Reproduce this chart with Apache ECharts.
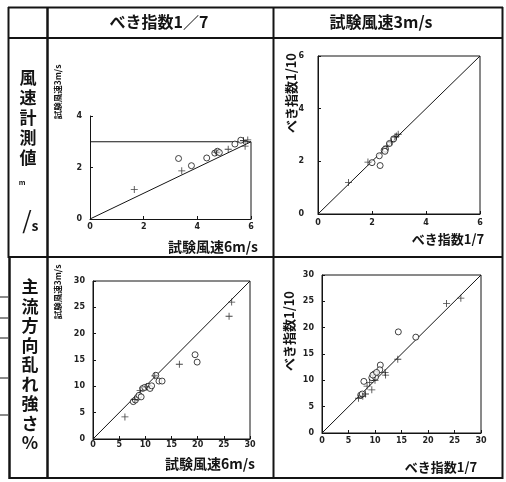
<!DOCTYPE html>
<html>
<head>
<meta charset="utf-8">
<script src="https://cdn.jsdelivr.net/npm/echarts@6/dist/echarts.min.js"></script>
<style>
  html, body { margin: 0; padding: 0; background: #fff; }
  #chart { width: 506px; height: 482px; }
</style>
</head>
<body>
<div id="chart"></div>
<script>
// Column and row headings of the comparison table
const columnHeads = ['べき指数1／7', '試験風速3m/s'];
const rowHeads = ['風速計測値', '主流方向乱れ強さ%'];

// Upper left: anemometer reading, test wind 6 m/s (x) vs 3 m/s (y)
const speedA_circle = [[3.30, 2.35], [3.78, 2.07], [4.35, 2.37], [4.65, 2.56], [4.75, 2.63], [4.82, 2.58], [5.40, 2.91], [5.62, 3.06]];
const speedA_plus = [[1.65, 1.15], [3.42, 1.87], [4.70, 2.60], [5.15, 2.71], [5.72, 3.05], [5.78, 2.83], [5.88, 3.07]];
const speedA_ref = [[0, 0], [6, 3]];
const speedA_frame = [[0, 3], [6, 3], [6, 0]];

// Upper right: anemometer reading, power exponent 1/7 (x) vs 1/10 (y)
const speedB_circle = [[2.00, 1.95], [2.27, 2.21], [2.30, 1.84], [2.45, 2.42], [2.50, 2.47], [2.48, 2.38], [2.65, 2.68], [2.80, 2.85]];
const speedB_plus = [[1.13, 1.20], [1.85, 1.97], [2.55, 2.58], [2.72, 2.74], [2.85, 2.92], [2.90, 2.96], [2.97, 3.03]];
const speedB_ref = [[0, 0], [6, 6]];

// Lower left: turbulence intensity, test wind 6 m/s (x) vs 3 m/s (y)
const turbA_circle = [[7.7, 7.1], [8.1, 7.4], [8.5, 7.9], [8.8, 8.3], [9.2, 8.0], [9.5, 9.6], [9.9, 9.8], [10.5, 10.0], [10.9, 9.6], [11.2, 10.1], [12.6, 11.0], [13.2, 11.0], [12.0, 12.1], [19.5, 16.0], [19.9, 14.6]];
const turbA_plus = [[6.1, 4.2], [8.0, 7.5], [9.0, 9.2], [10.2, 9.9], [11.8, 12.0], [16.5, 14.2], [26.0, 23.3], [26.5, 26.0]];
const turbA_ref = [[0, 0], [30, 30]];

// Lower right: turbulence intensity, power exponent 1/7 (x) vs 1/10 (y)
const turbB_circle = [[14.4, 19.2], [17.7, 18.2], [11.0, 12.9], [10.9, 12.0], [7.9, 9.8], [9.4, 10.5], [9.9, 11.2], [10.1, 10.6], [9.6, 11.0], [7.3, 7.2], [7.6, 7.4], [10.3, 11.5]];
const turbB_plus = [[23.5, 24.6], [26.2, 25.6], [14.3, 14.0], [11.9, 11.5], [12.0, 11.0], [9.4, 8.2], [8.5, 8.9], [9.0, 9.6], [6.9, 6.6], [7.7, 7.0], [8.2, 7.4], [10.0, 10.0]];
const turbB_ref = [[0, 0], [30, 30]];

// Axis titles
const nameSpeed6 = '試験風速6m/s';
const nameSpeed3 = '試験風速3m/s';
const nameExp7 = 'べき指数1/7';
const nameExp10 = 'べき指数1/10';

const INK = '#141414';
const CJK = '"Noto Sans CJK JP", "Noto Sans", sans-serif';
// thin plus sign
const PLUS = 'path://M4.4,0h1.2v4.4h4.4v1.2h-4.4v4.4h-1.2v-4.4h-4.4v-1.2h4.4z';

const chart = echarts.init(document.getElementById('chart'), null, { renderer: 'canvas' });

function grid(left, top, width, height, boxed) {
  return { left, top, width, height, show: boxed, borderColor: INK, borderWidth: 1, backgroundColor: 'transparent' };
}

function axis(gridIndex, max, interval, margin) {
  return {
    type: 'value', gridIndex, min: 0, max, interval,
    axisLine: { show: true, lineStyle: { color: INK, width: 1 } },
    axisTick: { show: true, inside: true, length: 3, lineStyle: { color: INK } },
    axisLabel: { fontSize: 8, fontWeight: 'bold', color: '#222', margin, fontFamily: 'DejaVu Sans' },
    splitLine: { show: false }
  };
}

function points(idx, data, kind) {
  return {
    type: 'scatter', xAxisIndex: idx, yAxisIndex: idx, data,
    symbol: kind === 'o' ? 'circle' : PLUS,
    symbolSize: kind === 'o' ? 6 : 7,
    itemStyle: kind === 'o'
      ? { color: '#fff', borderColor: INK, borderWidth: 1 }
      : { color: INK, borderWidth: 0 },
    z: 5, silent: true
  };
}

function line(idx, data) {
  return {
    type: 'line', xAxisIndex: idx, yAxisIndex: idx, data,
    showSymbol: false, symbol: 'none', silent: true,
    lineStyle: { color: INK, width: 1 }, z: 3
  };
}

function text(str, x, y, size, opts) {
  opts = opts || {};
  return {
    type: 'text', x, y, rotation: opts.rotation || 0, silent: true,
    style: {
      text: str, fill: INK, font: (opts.weight || 'bold') + ' ' + size + 'px ' + CJK,
      textAlign: 'center', textVerticalAlign: 'middle', lineHeight: opts.lineHeight
    }
  };
}

function hline(x1, x2, y, w) {
  return { type: 'line', silent: true, shape: { x1, y1: y, x2, y2: y }, style: { stroke: INK, lineWidth: w } };
}
function vline(x, y1, y2, w) {
  return { type: 'line', silent: true, shape: { x1: x, y1, x2: x, y2 }, style: { stroke: INK, lineWidth: w } };
}

const option = {
  animation: false,
  backgroundColor: '#fff',
  grid: [
    grid(90, 116, 161, 103, false),
    grid(318, 56, 162, 158, true),
    grid(93, 281, 157, 158, true),
    grid(322, 275, 159, 158, true)
  ],
  xAxis: [axis(0, 6, 2, 4), axis(1, 6, 2, 5), axis(2, 30, 5, 2), axis(3, 30, 5, 4)],
  yAxis: [axis(0, 4, 2, 8), axis(1, 6, 2, 14), axis(2, 30, 5, 8), axis(3, 30, 5, 8)],
  series: [
    line(0, speedA_ref), line(0, speedA_frame),
    points(0, speedA_circle, 'o'), points(0, speedA_plus, '+'),
    line(1, speedB_ref),
    points(1, speedB_circle, 'o'), points(1, speedB_plus, '+'),
    line(2, turbA_ref),
    points(2, turbA_circle, 'o'), points(2, turbA_plus, '+'),
    line(3, turbB_ref),
    points(3, turbB_circle, 'o'), points(3, turbB_plus, '+')
  ],
  graphic: [
    // table rules
    hline(8, 503, 7.5, 2), hline(8, 503, 38, 2), hline(8, 503, 257, 2), hline(9, 503, 478, 2),
    vline(8.5, 7, 258, 2), vline(9.5, 257, 479, 2.5), vline(47.5, 7, 479, 2.5),
    vline(273.5, 7, 479, 2), vline(502.5, 7, 479, 2),
    // stubs of neighbouring rules on the far left
    hline(0, 8, 297, 1), hline(0, 8, 318, 1), hline(0, 8, 338, 1), hline(0, 8, 378, 1), hline(0, 8, 415, 1),
    // column headings
    text(columnHeads[0], 159, 22, 16), text(columnHeads[1], 381, 22, 16),
    // row headings, written vertically
    text(rowHeads[0].split('').join('\n'), 28, 118, 17, { lineHeight: 20 }),
    text('m', 22, 182, 7),
    text('/', 27, 220, 24, { weight: 'normal' }),
    text('s', 35, 226, 14),
    text(rowHeads[1].split('').join('\n'), 30, 365, 17, { lineHeight: 19.5 }),
    // axis titles
    text(nameSpeed3, 57.5, 92, 8.5, { rotation: Math.PI / 2 }),
    text(nameSpeed3, 57.5, 292, 8.5, { rotation: Math.PI / 2 }),
    text(nameExp10, 291, 93, 13, { rotation: Math.PI / 2 }),
    text(nameExp10, 289, 331, 13, { rotation: Math.PI / 2 }),
    text(nameSpeed6, 213, 247, 14), text(nameSpeed6, 210, 464, 14),
    text(nameExp7, 448, 239, 13), text(nameExp7, 441, 467, 13)
  ]
};

chart.setOption(option);
</script>
</body>
</html>
